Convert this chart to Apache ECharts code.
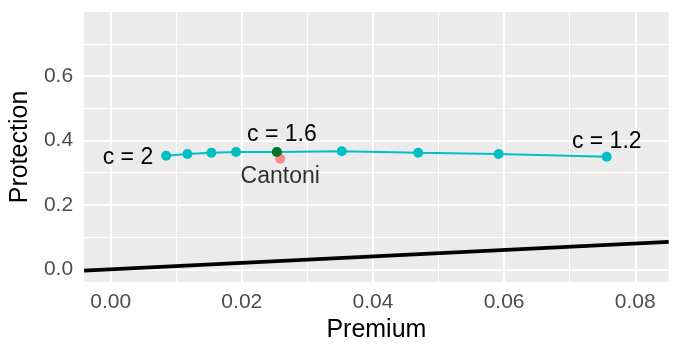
<!DOCTYPE html>
<html>
<head>
<meta charset="utf-8">
<script src="https://cdn.jsdelivr.net/npm/echarts@6/dist/echarts.min.js"></script>
<style>
  html, body { margin: 0; padding: 0; background: #fff; }
  #chart { width: 681px; height: 355px; }
</style>
</head>
<body>
<div id="chart"></div>
<script>
// frontier for c = 2 ... 1.2
const cValues = [2, 1.9, 1.8, 1.7, 1.6, 1.5, 1.4, 1.3, 1.2]
const premium = [0.00847, 0.01171, 0.01536, 0.01912, 0.02535, 0.03524, 0.04690, 0.05916, 0.07565]
const protection = [0.3528, 0.3581, 0.3621, 0.3643, 0.3643, 0.3665, 0.3621, 0.3581, 0.3497]
const labelled = [2, 1.6, 1.2]
const highlightC = 1.6
const cantoni = [0.02586, 0.3435]

const xTicks = [0, 0.02, 0.04, 0.06, 0.08]
const xMinor = [0.01, 0.03, 0.05, 0.07]
const yTicks = [0, 0.2, 0.4, 0.6]
const yMinor = [0.1, 0.3, 0.5, 0.7]
const xRange = [-0.00405, 0.0851]
const yRange = [-0.0394, 0.799]
// protection = premium reference line, across the panel
const diagonal = [[xRange[0], xRange[0]], [xRange[1], xRange[1]]]

const FONT = 'Liberation Sans'
let chart = echarts.init(document.getElementById('chart'))

let frontier = premium.map((p, i) => [p, protection[i]])
let hi = cValues.indexOf(highlightC)

let textStyle = {color: '#000', fontSize: 23, fontFamily: FONT, textBorderWidth: 0, textBorderColor: 'transparent'}
let labelSpec = {
    2: {position: 'left', distance: 8, offset: [0, 2]},
    1.6: {position: 'top', distance: 1, offset: [5, 0]},
    1.2: {position: 'top', distance: -1}
}
let pointData = frontier.map((d, i) => {
    let c = cValues[i]
    let item = {value: d}
    if (labelled.indexOf(c) >= 0) {
        item.label = Object.assign({show: true, formatter: 'c = ' + c}, textStyle, labelSpec[c])
    }
    return item
})

let gridLine = (axis, v, w) => ({[axis]: v, lineStyle: {color: '#fff', width: w, type: 'solid'}})
let gridLines = []
xMinor.forEach(v => gridLines.push(gridLine('xAxis', v, 1.1)))
yMinor.forEach(v => gridLines.push(gridLine('yAxis', v, 1.1)))
xTicks.forEach(v => gridLines.push(gridLine('xAxis', v, 2.1)))
yTicks.forEach(v => gridLines.push(gridLine('yAxis', v, 2.1)))

let axisCommon = {
    type: 'value',
    nameLocation: 'middle',
    nameTextStyle: {color: '#000', fontSize: 25, fontFamily: FONT},
    axisLine: {show: false},
    splitLine: {show: false},
    axisTick: {show: true, length: 5.5, lineStyle: {color: '#333333', width: 1.6}}
}

option = {
    animation: false,
    grid: {
        left: 82.7, right: 12.3, top: 12, bottom: 73,
        show: true, backgroundColor: '#EBEBEB', borderWidth: 0
    },
    xAxis: Object.assign({}, axisCommon, {
        name: 'Premium',
        nameGap: 35,
        min: xRange[0],
        max: xRange[1],
        axisTick: Object.assign({}, axisCommon.axisTick, {customValues: xTicks}),
        axisLabel: {
            customValues: xTicks,
            margin: 10,
            color: '#4D4D4D',
            fontSize: 21,
            fontFamily: FONT,
            formatter: v => xTicks.some(t => Math.abs(t - v) < 1e-9) ? v.toFixed(2) : ''
        }
    }),
    yAxis: Object.assign({}, axisCommon, {
        name: 'Protection',
        nameGap: 48,
        min: yRange[0],
        max: yRange[1],
        axisTick: Object.assign({}, axisCommon.axisTick, {customValues: yTicks}),
        axisLabel: {
            customValues: yTicks,
            margin: 11,
            color: '#4D4D4D',
            fontSize: 21,
            fontFamily: FONT,
            formatter: v => yTicks.some(t => Math.abs(t - v) < 1e-9) ? v.toFixed(1) : ''
        }
    }),
    series: [
        {
            // carrier for the panel grid lines
            type: 'line',
            data: frontier,
            symbol: 'none',
            lineStyle: {opacity: 0},
            silent: true,
            z: 1,
            markLine: {
                z: 1,
                silent: true,
                symbol: 'none',
                label: {show: false},
                data: gridLines
            }
        },
        {
            type: 'line',
            data: diagonal,
            symbol: 'none',
            lineStyle: {color: '#000', width: 3.6},
            z: 2
        },
        {
            type: 'line',
            data: pointData,
            symbol: 'circle',
            symbolSize: 10,
            showAllSymbol: true,
            itemStyle: {color: '#00BFC4'},
            lineStyle: {color: '#00BFC4', width: 2},
            z: 3
        },
        {
            type: 'scatter',
            data: [{
                value: cantoni,
                label: Object.assign({show: true, position: 'bottom', distance: 1, formatter: 'Cantoni'}, textStyle)
            }],
            symbolSize: 10,
            itemStyle: {color: '#F8766D'},
            z: 4
        },
        {
            type: 'scatter',
            data: [frontier[hi]],
            symbolSize: 10,
            itemStyle: {color: '#006400'},
            z: 5
        }
    ]
}
chart.setOption(option)
</script>
</body>
</html>
